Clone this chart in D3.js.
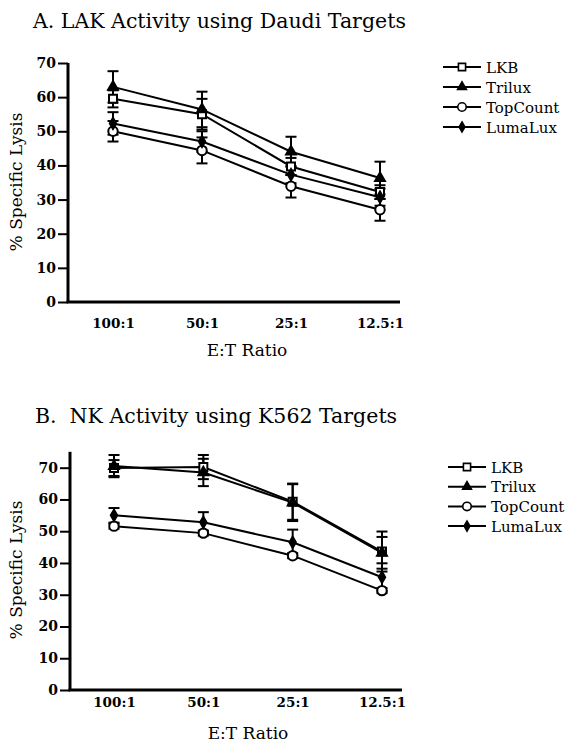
<!DOCTYPE html>
<html>
<head>
<meta charset="utf-8">
<script src="https://cdn.jsdelivr.net/npm/d3@7"></script>
<style>
  html, body { margin: 0; padding: 0; background: #fff; }
  svg { display: block; }
  text { font-family: "DejaVu Serif", "Liberation Serif", serif; fill: #000; }
</style>
</head>
<body>
<svg id="chart" width="582" height="743"></svg>
<script>
// ---------------- DATA ----------------
const categories = ["100:1", "50:1", "25:1", "12.5:1"];
const seriesNames = ["LKB", "Trilux", "TopCount", "LumaLux"];
const yTicks = [0, 10, 20, 30, 40, 50, 60, 70];

// Panel A: LAK activity using Daudi targets
const lakLKB      = [59.5, 55.0, 39.7, 32.2];
const lakLKBErr   = [2.5, 4.5, 2.5, 2.0];
const lakTrilux   = [63.0, 56.4, 44.0, 36.3];
const lakTriluxErr= [4.6, 5.2, 4.4, 4.8];
const lakTopCount = [50.0, 44.4, 33.9, 27.0];
const lakTopCountErr = [3.0, 3.8, 3.3, 3.2];
const lakLumaLux  = [52.3, 47.0, 37.3, 30.7];
const lakLumaLuxErr = [3.3, 3.0, 2.5, 2.5];

// Panel B: NK activity using K562 targets
const nkLKB       = [69.9, 70.2, 59.3, 43.6];
const nkLKBErr    = [2.5, 3.8, 5.7, 6.3];
const nkTrilux    = [70.5, 68.5, 59.0, 43.2];
const nkTriluxErr = [3.5, 4.3, 5.8, 5.0];
const nkTopCount  = [51.6, 49.4, 42.3, 31.3];
const nkTopCountErr = [0.8, 0.8, 0.8, 0.8];
const nkLumaLux   = [55.0, 52.8, 46.5, 35.5];
const nkLumaLuxErr = [2.3, 3.2, 4.0, 4.4];

// ---------------- DRAWING ----------------
const svg = d3.select("#chart");

const markerType = {
  LKB:      {sym: d3.symbolSquare,   size: 64, fill: "#fff"},
  Trilux:   {sym: d3.symbolTriangle, size: 42, fill: "#000"},
  TopCount: {sym: d3.symbolCircle,   size: 70, fill: "#fff"},
  LumaLux:  {sym: d3.symbolDiamond,  size: 36, fill: "#000"}
};

function drawPanel(cfg) {
  const g = svg.append("g");
  // title
  g.append("text")
    .attr("x", cfg.titleX).attr("y", cfg.titleY)
    .attr("font-size", 20.5)
    .attr("xml:space", "preserve")
    .style("white-space", "pre")
    .text(cfg.title);

  const y = d3.scaleLinear().domain([0, 70]).range([cfg.y0, cfg.y70]);
  const x = d3.scalePoint().domain(categories).range([cfg.xFirst, cfg.xLast]);

  // y axis
  const yAxis = d3.axisLeft(y).tickValues(yTicks).tickSize(10).tickSizeOuter(0).tickPadding(2);
  const ya = g.append("g").attr("transform", `translate(${cfg.axisX},0)`).call(yAxis);
  ya.select(".domain").remove();
  ya.selectAll(".tick line").attr("stroke", "#000").attr("stroke-width", 2);
  ya.selectAll(".tick text")
    .attr("font-family", "DejaVu Serif").attr("font-weight", "bold").attr("font-size", 14)
    .attr("fill", "#000");
  g.append("line")
    .attr("x1", cfg.axisX).attr("x2", cfg.axisX)
    .attr("y1", cfg.y0 + 1).attr("y2", y(cfg.yAxisTop))
    .attr("stroke", "#000").attr("stroke-width", 3);

  // x axis
  const xAxis = d3.axisBottom(x).tickSize(0).tickPadding(cfg.xLabelPad);
  const xa = g.append("g").attr("transform", `translate(0,${cfg.y0})`).call(xAxis);
  xa.select(".domain").remove();
  xa.selectAll(".tick text")
    .attr("font-family", "DejaVu Serif").attr("font-weight", "bold").attr("font-size", 13.5)
    .attr("fill", "#000");
  g.append("line")
    .attr("x1", cfg.axisX - 1.5).attr("x2", cfg.xAxisEnd)
    .attr("y1", cfg.y0).attr("y2", cfg.y0)
    .attr("stroke", "#000").attr("stroke-width", 3);

  // axis titles
  g.append("text")
    .attr("transform", `translate(${cfg.yTitleX},${cfg.yTitleY}) rotate(-90)`)
    .attr("text-anchor", "middle").attr("font-size", 17)
    .text("% Specific Lysis");
  g.append("text")
    .attr("x", cfg.xTitleX).attr("y", cfg.xTitleY)
    .attr("text-anchor", "middle").attr("font-size", 17)
    .text("E:T Ratio");

  const series = cfg.series;
  const line = d3.line().x((d, i) => x(categories[i])).y(d => y(d));

  // error bars
  series.forEach(s => {
    s.values.forEach((v, i) => {
      const cx = x(categories[i]);
      const e = s.err[i];
      g.append("line").attr("x1", cx).attr("x2", cx)
        .attr("y1", y(v - e)).attr("y2", y(v + e))
        .attr("stroke", "#000").attr("stroke-width", 2);
      [v - e, v + e].forEach(t => {
        g.append("line").attr("x1", cx - 5.5).attr("x2", cx + 5.5)
          .attr("y1", y(t)).attr("y2", y(t))
          .attr("stroke", "#000").attr("stroke-width", 2);
      });
    });
  });
  // lines
  series.forEach(s => {
    g.append("path").datum(s.values).attr("d", line)
      .attr("fill", "none").attr("stroke", "#000").attr("stroke-width", 2);
  });
  // markers
  series.forEach(s => {
    const m = markerType[s.name];
    g.selectAll(null).data(s.values).enter().append("path")
      .attr("d", d3.symbol().type(m.sym).size(m.size))
      .attr("transform", (d, i) => `translate(${x(categories[i])},${y(d)})`)
      .attr("fill", m.fill).attr("stroke", "#000").attr("stroke-width", 2);
  });

  // legend
  seriesNames.forEach((name, i) => {
    const ly = cfg.legendY + i * cfg.legendStep;
    const m = markerType[name];
    g.append("line").attr("x1", cfg.legendX).attr("x2", cfg.legendX + 38)
      .attr("y1", ly).attr("y2", ly).attr("stroke", "#000").attr("stroke-width", 2);
    g.append("path")
      .attr("d", d3.symbol().type(m.sym).size(m.size * 0.8))
      .attr("transform", `translate(${cfg.legendX + 19},${ly})`)
      .attr("fill", m.fill).attr("stroke", "#000").attr("stroke-width", 1.6);
    g.append("text").attr("x", cfg.legendX + 43).attr("y", ly + 5.5)
      .attr("font-size", 15).text(name);
  });
}

drawPanel({
  title: "A. LAK Activity using Daudi Targets",
  titleX: 33, titleY: 28,
  axisX: 68, y0: 302, y70: 63, yAxisTop: 70,
  xFirst: 113, xLast: 380, xAxisEnd: 400, xLabelPad: 16,
  yTitleX: 22, yTitleY: 182,
  xTitleX: 247, xTitleY: 356,
  legendX: 443, legendY: 67, legendStep: 20,
  series: [
    {name: "LKB", values: lakLKB, err: lakLKBErr},
    {name: "Trilux", values: lakTrilux, err: lakTriluxErr},
    {name: "TopCount", values: lakTopCount, err: lakTopCountErr},
    {name: "LumaLux", values: lakLumaLux, err: lakLumaLuxErr}
  ]
});

drawPanel({
  title: "B.  NK Activity using K562 Targets",
  titleX: 35, titleY: 423,
  axisX: 70, y0: 690, y70: 467.7, yAxisTop: 75,
  xFirst: 114, xLast: 382, xAxisEnd: 402, xLabelPad: 7,
  yTitleX: 22, yTitleY: 570,
  xTitleX: 248, xTitleY: 739,
  legendX: 448, legendY: 467, legendStep: 19.7,
  series: [
    {name: "LKB", values: nkLKB, err: nkLKBErr},
    {name: "Trilux", values: nkTrilux, err: nkTriluxErr},
    {name: "TopCount", values: nkTopCount, err: nkTopCountErr},
    {name: "LumaLux", values: nkLumaLux, err: nkLumaLuxErr}
  ]
});
</script>
</body>
</html>
